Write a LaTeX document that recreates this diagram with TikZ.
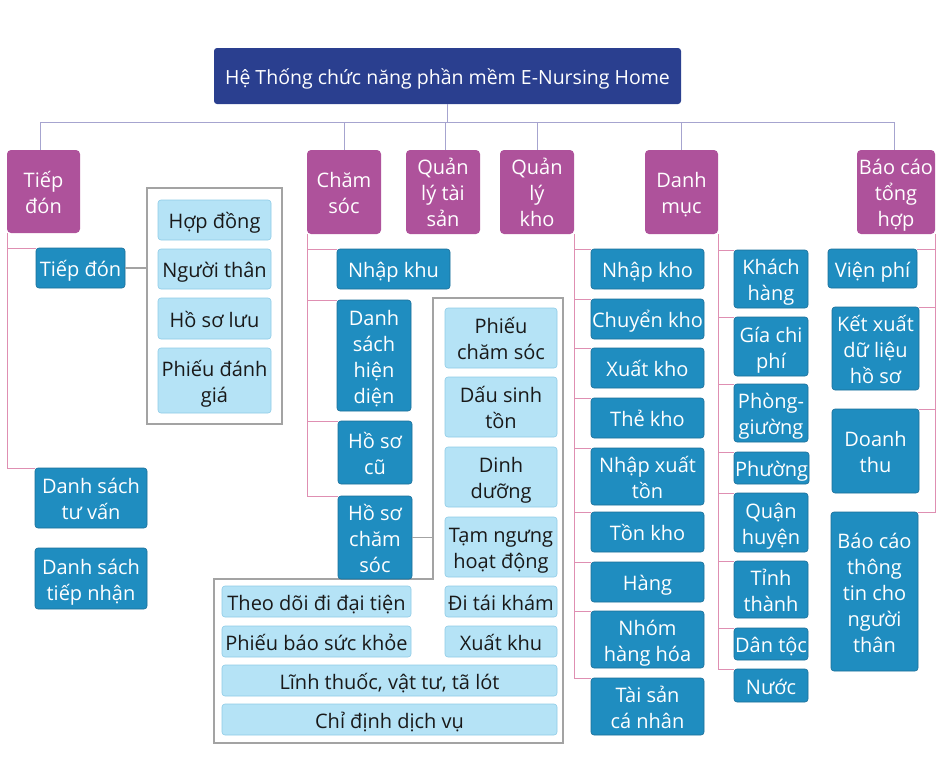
\documentclass[tikz,border=0pt]{standalone}
\usepackage{fontspec}
\setmainfont{Open Sans}
\definecolor{titleblue}{HTML}{2A3F8F}
\definecolor{catmag}{HTML}{AE529B}
\definecolor{childblue}{HTML}{1F8DC0}
\definecolor{childedge}{HTML}{1A6E98}
\definecolor{leafblue}{HTML}{B5E3F6}
\definecolor{leafedge}{HTML}{8ECBE6}
\definecolor{pinkline}{HTML}{DF8FB2}
\definecolor{topline}{HTML}{A6A4CF}
\definecolor{frameline}{HTML}{A3A3A3}
\newcommand\bx[7]{\node[#1,anchor=north west,minimum width={#5-#3},minimum height={#6-#4}] (#2) at (#3,#4) {\rule{0pt}{23pt}#7\rule[-6pt]{0pt}{6pt}};}
\begin{document}
\begin{tikzpicture}[x=1pt,y=-1pt,
  every node/.style={font=\fontsize{20}{26}\selectfont,align=center,inner sep=1pt,outer sep=0pt},
  titlebox/.style={fill=titleblue,text=white,rounded corners=3pt,font=\fontsize{19.5}{26}\selectfont},
  catbox/.style={fill=catmag,text=white,rounded corners=4pt},
  childbox/.style={fill=childblue,draw=childedge,line width=0.6pt,text=white,rounded corners=3pt},
  leafbox/.style={fill=leafblue,draw=leafedge,line width=0.6pt,text=black!90,rounded corners=3pt},
  framebox/.style={draw=frameline,line width=1.1pt},
  pk/.style={draw=pinkline,line width=1pt},
  tl/.style={draw=topline,line width=1pt},
  gr/.style={draw=frameline,line width=1.1pt}]
\useasboundingbox (0,0) rectangle (945,763);
% frames
\bx{framebox}{frame1}{147}{188}{282}{424}{}
\draw[gr] (433,298) coordinate (f2tl) -- (563,298) -- (563,743) -- (214,743) -- (214,579) -- (433,579) -- cycle;
% title and categories
\bx{titlebox}{title}{214}{48}{681}{104}{Hệ Thống chức năng phần mềm E-Nursing Home}
\bx{catbox}{tiep}{7}{150}{80}{233}{Tiếp\\đón}
\bx{catbox}{cham}{307}{150}{381}{234}{Chăm\\sóc}
\bx{catbox}{qlts}{406}{150}{480}{234}{Quản\\lý tài\\sản}
\bx{catbox}{qlk}{500}{150}{574}{234}{Quản\\lý\\kho}
\bx{catbox}{dm}{645}{150}{718}{234}{Danh\\mục}
\bx{catbox}{bc}{857}{150}{935}{234}{Báo cáo\\tổng\\hợp}
\coordinate (bus) at (0,122);
\draw[tl] ([xshift=-3pt]tiep.north) -- ([xshift=-3pt]tiep.north|-bus) -- ([xshift=-2pt]bc.north|-bus) -- ([xshift=-2pt]bc.north);
\draw[tl] (title.south) -- (title.south|-bus);
\draw[tl] (cham.north) -- (cham.north|-bus);
\draw[tl] ([xshift=2pt]qlts.north) -- ([xshift=2pt]qlts.north|-bus);
\draw[tl] (qlk.north) -- (qlk.north|-bus);
\draw[tl] (dm.north) -- (dm.north|-bus);
% Tiep don
\bx{childbox}{td}{36}{248}{125}{288}{Tiếp đón}
\bx{childbox}{dstv}{35}{468}{147}{528}{Danh sách\\tư vấn}
\bx{childbox}{dstn}{35}{548}{147}{609}{Danh sách\\tiếp nhận}
\bx{leafbox}{hd}{158}{200}{271}{240}{Hợp đồng}
\bx{leafbox}{nt}{158}{249}{271}{289}{Người thân}
\bx{leafbox}{hsl}{158}{298}{271}{339}{Hồ sơ lưu}
\bx{leafbox}{pdg}{158}{348}{271}{413}{Phiếu đánh\\giá}
\draw[pk] (tiep.south west) |- (dstv.north west);
\draw[pk] (tiep.south west|-td.north) -- (td.north west);
\draw[gr] (td.east) -- (td.east-|frame1.west);
% Cham soc
\bx{childbox}{nk}{337}{249}{450}{289}{Nhập khu}
\bx{childbox}{dshd}{337}{300}{411}{411}{Danh\\sách\\hiện\\diện}
\bx{childbox}{hsc}{338}{421}{412}{484}{Hồ sơ\\cũ}
\bx{childbox}{hscs}{338}{496}{412}{575}{Hồ sơ\\chăm\\sóc}
\draw[pk] (cham.south west) |- (hscs.north west);
\foreach \n in {nk,dshd,hsc} \draw[pk] (cham.south west|-\n.north) -- (\n.north west);
\draw[gr] (hscs.east) -- (hscs.east-|f2tl);
\bx{leafbox}{pcs}{445}{308}{557}{368}{Phiếu\\chăm sóc}
\bx{leafbox}{dst}{445}{377}{557}{437}{Dấu sinh\\tồn}
\bx{leafbox}{dd}{445}{447}{557}{507}{Dinh\\dưỡng}
\bx{leafbox}{tnhd}{445}{517}{557}{577}{Tạm ngưng\\hoạt động}
\bx{leafbox}{dtk}{445}{586}{557}{616}{Đi tái khám}
\bx{leafbox}{xk}{445}{626}{557}{656}{Xuất khu}
\bx{leafbox}{tdddt}{222}{586}{411}{616}{Theo dõi đi đại tiện}
\bx{leafbox}{pbsk}{222}{626}{411}{656}{Phiếu báo sức khỏe}
\bx{leafbox}{ltvt}{222}{665}{557}{695}{Lĩnh thuốc, vật tư, tã lót}
\bx{leafbox}{cddv}{222}{704}{557}{734}{Chỉ định dịch vụ}
% Quan ly kho
\bx{childbox}{k1}{591}{249}{704}{289}{Nhập kho}
\bx{childbox}{k2}{591}{299}{704}{339}{Chuyển kho}
\bx{childbox}{k3}{591}{348}{704}{388}{Xuất kho}
\bx{childbox}{k4}{591}{398}{704}{438}{Thẻ kho}
\bx{childbox}{k5}{591}{448}{704}{505}{Nhập xuất\\tồn}
\bx{childbox}{k6}{591}{512}{704}{552}{Tồn kho}
\bx{childbox}{k7}{591}{562}{704}{602}{Hàng}
\bx{childbox}{k8}{591}{611}{704}{668}{Nhóm\\hàng hóa}
\bx{childbox}{k9}{591}{678}{704}{735}{Tài sản\\cá nhân}
\draw[pk] (qlk.south east) |- (k9.north west);
\foreach \n in {k1,k2,k3,k4,k5,k6,k7,k8} \draw[pk] (qlk.south east|-\n.north) -- (\n.north west);
% Danh muc
\bx{childbox}{d1}{734}{250}{808}{308}{Khách\\hàng}
\bx{childbox}{d2}{734}{317}{808}{376}{Gía chi\\phí}
\bx{childbox}{d3}{734}{384}{808}{442}{Phòng-\\giường}
\bx{childbox}{d4}{734}{452}{808}{484}{Phường}
\bx{childbox}{d5}{734}{493}{808}{552}{Quận\\huyện}
\bx{childbox}{d6}{734}{561}{808}{618}{Tỉnh\\thành}
\bx{childbox}{d7}{734}{628}{808}{660}{Dân tộc}
\bx{childbox}{d8}{734}{669}{808}{702}{Nước}
\draw[pk] (dm.south east) |- (d8.north west);
\foreach \n in {d1,d2,d3,d4,d5,d6,d7} \draw[pk] (dm.south east|-\n.north) -- (\n.north west);
% Bao cao
\bx{childbox}{b1}{828}{249}{917}{288}{Viện phí}
\bx{childbox}{b2}{832}{307}{919}{390}{Kết xuất\\dữ liệu\\hồ sơ}
\bx{childbox}{b3}{832}{409}{919}{493}{Doanh\\thu}
\bx{childbox}{b4}{831}{512}{918}{671}{Báo cáo\\thông\\tin cho\\người\\thân}
\draw[pk] (bc.south east) |- (b4.north east);
\foreach \n in {b1,b2,b3} \draw[pk] (bc.south east|-\n.north) -- (\n.north east);
\end{tikzpicture}
\end{document}
